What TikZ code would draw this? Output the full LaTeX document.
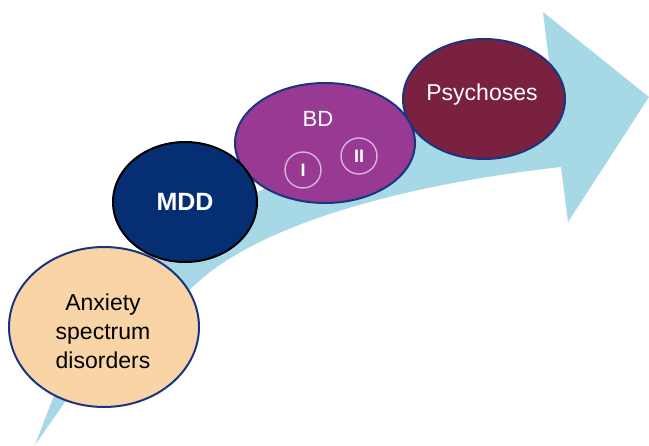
\documentclass[tikz,border=0pt]{standalone}
\usepackage{fontspec}
\setmainfont{Liberation Sans}
\usetikzlibrary{shapes.geometric}
\definecolor{arrowblue}{HTML}{A7D8E5}
\definecolor{peach}{HTML}{F9D4A6}
\definecolor{navyline}{HTML}{1A3580}
\definecolor{mddfill}{HTML}{062E73}
\definecolor{bdfill}{HTML}{983A93}
\definecolor{psyfill}{HTML}{7A2140}
\definecolor{ringline}{HTML}{D6B3D8}
\tikzset{
  blob/.style={ellipse, inner sep=0pt, line width=2pt, align=center},
  ring/.style={circle, draw=ringline, line width=1.4pt, minimum size=36pt, inner sep=0pt, text=white, font=\fontsize{18}{18}\selectfont\bfseries},
}
\begin{document}
\begin{tikzpicture}[x=1pt,y=-1pt]
\useasboundingbox (0,0) rectangle (649,446);
% arrow
\fill[arrowblue] (35,445) -- (53,398)
  .. controls (100,310) and (180,222) .. (250,195)
  .. controls (330,160) and (450,110) .. (550,70)
  -- (543,12) -- (649,97) -- (568,222) -- (561,167)
  .. controls (400,185) and (260,225) .. (197,283)
  -- (65,402) -- cycle;
% ellipses
\node[blob, draw=navyline, fill=psyfill, minimum width=162pt, minimum height=120pt] (psy) at (484,99) {};
\node[text=white, font=\fontsize{23}{23}\selectfont] (psyt) at (482,95) {Psychoses};
\node[blob, draw=navyline, fill=bdfill, minimum width=180pt, minimum height=120pt] (bd) at (325,143) {};
\node[text=white, font=\fontsize{22}{22}\selectfont] (bdt) at (318,119) {BD};
\node[ring] (r1) at (303,170) {I};
\node[ring] (r2) at (359,156) {II};
\node[blob, draw=navyline, fill=peach, minimum width=190pt, minimum height=160pt] (anx) at (104,327) {};
\node[font=\fontsize{23}{29}\selectfont, align=center] (anxt) at (103,331) {Anxiety\\spectrum\\disorders};
\node[blob, draw=black, fill=mddfill, minimum width=144pt, minimum height=120pt, text=white, font=\fontsize{25}{25}\selectfont\bfseries] (mdd) at (185,202) {MDD};
\end{tikzpicture}
\end{document}
